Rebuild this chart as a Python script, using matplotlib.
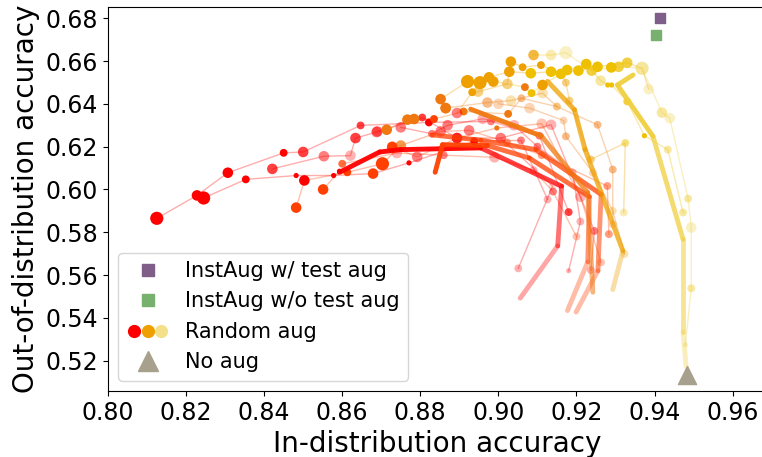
import matplotlib
matplotlib.use('Agg')
import matplotlib.pyplot as plt
from matplotlib.lines import Line2D
from matplotlib.legend_handler import HandlerTuple
from matplotlib.colors import to_rgba

# 颜色层级: 0 红 ... 5 黄; 透明度层级: 0 最深 ... 4 最浅; 尺寸层级: 0 小 ... 3 大
# 细线(带点)轨迹
chain_x = [
    [0.8125, 0.8228, 0.8307, 0.8450, 0.8500, 0.8647, 0.8822, 0.8981, 0.9105, 0.9180],
    [0.8245, 0.8353, 0.8482, 0.8578, 0.8679, 0.8771, 0.8938, 0.9058, 0.9126],
    [0.8421, 0.8553, 0.8621, 0.8634, 0.8688, 0.8805, 0.8894, 0.9006, 0.9135, 0.9246, 0.9237],
    [0.8482, 0.8503, 0.8613, 0.8703, 0.8750, 0.8852, 0.8925, 0.9022, 0.9111, 0.9279, 0.9283],
    [0.8551, 0.8593, 0.8728, 0.8792, 0.8894, 0.8996, 0.9111, 0.9210, 0.9263],
    [0.8690, 0.8714, 0.8767, 0.8784, 0.8835, 0.8911, 0.9025, 0.9059, 0.9150, 0.9254, 0.9293, 0.9293],
    [0.8865, 0.8852, 0.8921, 0.8953, 0.8976, 0.9028, 0.9083, 0.9135, 0.9205, 0.9254, 0.9330, 0.9368, 0.9385],
    [0.8894, 0.8933, 0.8948, 0.9023, 0.9032, 0.9062, 0.9109, 0.9160, 0.9173, 0.9182, 0.9237, 0.9325, 0.9321],
    [0.8987, 0.9068, 0.9085, 0.9113, 0.9176, 0.9225, 0.9262, 0.9280, 0.9290, 0.9330, 0.9374, 0.9434, 0.9473],
    [0.9090, 0.9135, 0.9173, 0.9239, 0.9289, 0.9308, 0.9368, 0.9419, 0.9439, 0.9486, 0.9494, 0.9494, 0.9479],
    [0.9000, 0.9080, 0.9167, 0.9173, 0.9242, 0.9293, 0.9323],
    [0.9006, 0.9139, 0.9051],
    [0.8865, 0.8972, 0.9032, 0.9113, 0.9150],
    [0.8750, 0.8830, 0.8870, 0.8960, 0.9040, 0.9100, 0.9190, 0.9210, 0.9180],
    [0.8600, 0.8740, 0.8860, 0.8990, 0.9090, 0.9140, 0.9200],
]
chain_y = [
    [0.5865, 0.5972, 0.6078, 0.6171, 0.6175, 0.6299, 0.6313, 0.6318, 0.6251, 0.5894],
    [0.5960, 0.6047, 0.6065, 0.6065, 0.6074, 0.6124, 0.6225, 0.6229, 0.5953],
    [0.6096, 0.6155, 0.6158, 0.6240, 0.6268, 0.6336, 0.6240, 0.6240, 0.6302, 0.5806, 0.5623],
    [0.5915, 0.6042, 0.6080, 0.6120, 0.6205, 0.6271, 0.6276, 0.6220, 0.6160, 0.6016, 0.5791],
    [0.6000, 0.6085, 0.6199, 0.6152, 0.6240, 0.6287, 0.6307, 0.5966, 0.5659],
    [0.6271, 0.6279, 0.6326, 0.6329, 0.6329, 0.6364, 0.6353, 0.6426, 0.6387, 0.6302, 0.6093, 0.5837],
    [0.6380, 0.6422, 0.6504, 0.6499, 0.6524, 0.6550, 0.6543, 0.6550, 0.6555, 0.6573, 0.6592, 0.6566, 0.6468],
    [0.6357, 0.6454, 0.6457, 0.6493, 0.6597, 0.6571, 0.6581, 0.6540, 0.6499, 0.6415, 0.6140, 0.6217, 0.5892],
    [0.6504, 0.6478, 0.6450, 0.6488, 0.6558, 0.6586, 0.6508, 0.6488, 0.6488, 0.6411, 0.6251, 0.6186, 0.5892],
    [0.6628, 0.6628, 0.6639, 0.6555, 0.6570, 0.6573, 0.6566, 0.6359, 0.6333, 0.5957, 0.5822, 0.5538, 0.5274],
    [0.6400, 0.6380, 0.6322, 0.6248, 0.6078, 0.5900, 0.5698],
    [0.6240, 0.6016, 0.5631],
    [0.6380, 0.6406, 0.6415, 0.6450, 0.6387],
    [0.6290, 0.6260, 0.6300, 0.6330, 0.6300, 0.6200, 0.6080, 0.5850, 0.5620],
    [0.6120, 0.6170, 0.6160, 0.6150, 0.6090, 0.5990, 0.5780],
]
chain_hue = [
    [0, 0, 0, 0, 0, 0, 0, 0, 0, 0],
    [0, 0, 0, 0, 1, 0, 0, 0, 0],
    [0, 0, 0, 0, 0, 0, 0, 0, 0, 0, 0],
    [1, 0, 1, 1, 2, 0, 0, 1, 1, 1, 1],
    [1, 0, 1, 0, 0, 2, 1, 0, 1],
    [0, 2, 2, 2, 1, 2, 2, 2, 2, 2, 2, 2],
    [2, 2, 3, 3, 3, 3, 4, 4, 4, 4, 4, 5, 5],
    [0, 3, 3, 3, 3, 3, 3, 4, 3, 3, 3, 4, 4],
    [3, 2, 4, 3, 4, 4, 5, 4, 4, 4, 4, 5, 5],
    [3, 4, 5, 4, 4, 4, 5, 5, 5, 5, 5, 5, 5],
    [2, 2, 2, 2, 2, 3, 3],
    [0, 0, 0],
    [2, 2, 3, 3, 3],
    [0, 0, 0, 0, 0, 0, 0, 0, 0],
    [1, 0, 0, 0, 0, 0, 1],
]
chain_fade = [
    [0, 0, 0, 0, 1, 1, 0, 2, 2, 1],
    [0, 0, 0, 0, 0, 0, 0, 2, 3],
    [1, 2, 3, 1, 2, 1, 2, 3, 3, 2, 3],
    [0, 0, 0, 0, 1, 2, 2, 2, 2, 2, 2],
    [0, 0, 0, 2, 1, 0, 3, 3, 3],
    [2, 0, 0, 0, 0, 0, 0, 2, 3, 2, 2, 3],
    [0, 0, 0, 0, 0, 0, 0, 0, 0, 0, 1, 3, 3],
    [2, 0, 2, 2, 0, 0, 0, 0, 2, 2, 2, 2, 3],
    [0, 0, 0, 0, 0, 0, 2, 0, 0, 1, 0, 2, 2],
    [1, 3, 3, 1, 0, 1, 3, 2, 3, 2, 3, 2, 3],
    [3, 3, 3, 2, 3, 3, 3],
    [3, 4, 3],
    [1, 2, 3, 3, 3],
    [2, 2, 2, 3, 3, 2, 3, 3, 3],
    [1, 3, 2, 3, 3, 2, 3],
]
chain_size = [
    [3, 2, 2, 1, 2, 1, 1, 1, 1, 1],
    [3, 1, 0, 0, 2, 0, 1, 1, 1],
    [2, 2, 2, 2, 2, 1, 2, 2, 2, 1, 1],
    [2, 2, 1, 3, 2, 2, 2, 1, 1, 1, 1],
    [2, 0, 2, 2, 2, 0, 2, 2, 1],
    [2, 2, 2, 2, 1, 1, 1, 1, 1, 1, 1, 1],
    [2, 2, 3, 3, 2, 2, 2, 2, 2, 2, 2, 3, 2],
    [2, 1, 2, 2, 2, 1, 1, 2, 1, 1, 1, 1, 1],
    [2, 1, 1, 2, 2, 2, 2, 0, 0, 1, 0, 1, 1],
    [2, 2, 3, 2, 2, 2, 3, 2, 2, 1, 2, 1, 0],
    [2, 2, 1, 1, 1, 1, 1],
    [2, 1, 1],
    [2, 2, 2, 2, 1],
    [2, 1, 2, 2, 2, 1, 1, 1, 0],
    [1, 2, 1, 2, 1, 1, 1],
]
chain_line_hue = [0, 0, 0, 1, 1, 2, 3, 3, 4, 5, 2, 0, 2, 0, 1]

# 粗线轨迹
thick_x = [
    [0.8593, 0.8696, 0.8750, 0.8955, 0.9162, 0.9152, 0.9056],
    [0.8838, 0.8857, 0.8972, 0.9079, 0.9233, 0.9229, 0.9177],
    [0.8830, 0.8955, 0.9096, 0.9263, 0.9255, 0.9199],
    [0.8929, 0.9110, 0.9229, 0.9242],
    [0.9126, 0.9195, 0.9222, 0.9319, 0.9293],
    [0.9345, 0.9305, 0.9396, 0.9473, 0.9473, 0.9481],
]
thick_y = [
    [0.6080, 0.6175, 0.6186, 0.6194, 0.6015, 0.5736, 0.5492],
    [0.6080, 0.6209, 0.6205, 0.6147, 0.5966, 0.5662, 0.5434],
    [0.6255, 0.6230, 0.6186, 0.5977, 0.5620, 0.5427],
    [0.6375, 0.6250, 0.5985, 0.5520],
    [0.6505, 0.6372, 0.6186, 0.5713, 0.5532],
    [0.6535, 0.6488, 0.6248, 0.5767, 0.5333, 0.5171],
]
thick_hue = [0, 1, 1, 2, 3, 5]
thick_fade = [
    [0, 0, 0, 1, 2, 3],
    [0, 0, 1, 1, 2, 3],
    [1, 1, 1, 2, 3],
    [0, 1, 2],
    [1, 1, 1, 3],
    [0, 0, 1, 2, 3],
]

# 其他方法
instaug_test = (0.9413, 0.6799)
instaug_notest = (0.9404, 0.6721)
no_aug = (0.9484, 0.5132)

hue_colors = ['#ff0000', '#ff4000', '#f07810', '#eea000', '#eec000', '#f0d040']
fade_alpha = [1.0, 0.75, 0.5, 0.3, 0.15]
thick_alpha = [0.95, 0.75, 0.55, 0.35]
size_levels = [14, 32, 58, 90]

fig = plt.figure(figsize=(7.62, 4.57), dpi=100)
ax = fig.add_axes([0.1417, 0.1444, 0.8633, 0.8396])

# 细线 + 散点
for i in range(len(chain_x)):
    ax.plot(chain_x[i], chain_y[i], '-', color=hue_colors[chain_line_hue[i]],
            alpha=0.32, lw=1, zorder=1)
    cols = [to_rgba(hue_colors[h], fade_alpha[f]) for h, f in zip(chain_hue[i], chain_fade[i])]
    sizes = [size_levels[k] for k in chain_size[i]]
    ax.scatter(chain_x[i], chain_y[i], s=sizes, c=cols, edgecolors='none', zorder=2)

# 粗线, 每段单独透明度
for i in range(len(thick_x)):
    for j in range(len(thick_x[i]) - 1):
        ax.plot(thick_x[i][j:j + 2], thick_y[i][j:j + 2], '-', color=hue_colors[thick_hue[i]],
                alpha=thick_alpha[thick_fade[i][j]], lw=3.5, solid_capstyle='round', zorder=3)

ax.scatter([instaug_test[0]], [instaug_test[1]], marker='s', s=60, color='#7f5f8a', zorder=4)
ax.scatter([instaug_notest[0]], [instaug_notest[1]], marker='s', s=60, color='#78b070', zorder=4)
ax.scatter([no_aug[0]], [no_aug[1]], marker='^', s=170, color='#a7a08d', zorder=4)

ax.set_xlim(0.80, 0.9685)
ax.set_ylim(0.5058, 0.6851)
ax.set_xticks([0.80, 0.82, 0.84, 0.86, 0.88, 0.90, 0.92, 0.94, 0.96])
ax.set_yticks([0.52, 0.54, 0.56, 0.58, 0.60, 0.62, 0.64, 0.66, 0.68])
ax.set_xticklabels(['%.2f' % v for v in ax.get_xticks()])
ax.set_yticklabels(['%.2f' % v for v in ax.get_yticks()])
ax.tick_params(labelsize=17)
ax.set_xlabel('In-distribution accuracy', fontsize=20)
ax.set_ylabel('Out-of-distribution accuracy', fontsize=20)

h1 = Line2D([], [], marker='s', ls='', color='#7f5f8a', markersize=8)
h2 = Line2D([], [], marker='s', ls='', color='#78b070', markersize=8)
r1 = Line2D([], [], marker='o', ls='', color='#ff0000', markersize=8.5)
r2 = Line2D([], [], marker='o', ls='', color='#eea000', markersize=8.5)
r3 = Line2D([], [], marker='o', ls='', color='#f5e08a', markersize=8.5)
h4 = Line2D([], [], marker='^', ls='', color='#a7a08d', markersize=14)
ax.legend([h1, h2, (r1, r2, r3), h4],
          ['InstAug w/ test aug', 'InstAug w/o test aug', 'Random aug', 'No aug'],
          handler_map={tuple: HandlerTuple(ndivide=None, pad=0)},
          loc='lower left', fontsize=15, handlelength=2.0)

plt.savefig('out.png', dpi=100)
